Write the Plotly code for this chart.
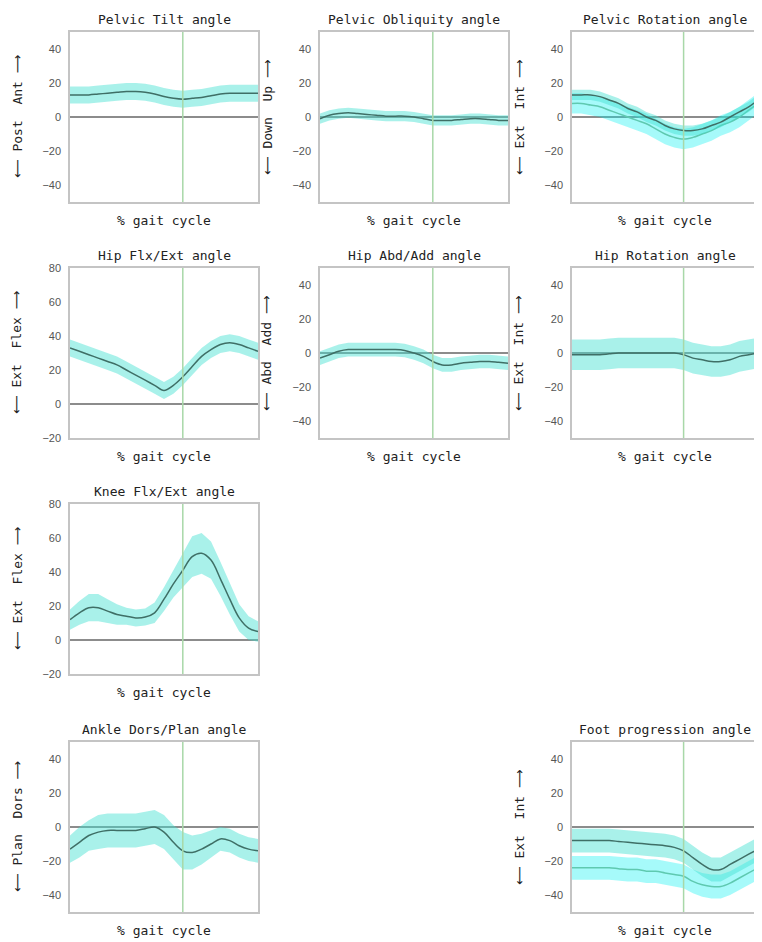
import plotly.graph_objects as go

# the page body has an 8px margin: figure is drawn at (8, 8) in the window
OFF = 8
W, H = 762 - OFF, 942 - OFF
TOE_OFF = 60
x_pct = [0, 5, 10, 15, 20, 25, 30, 35, 40, 45, 50, 55, 60, 65, 70, 75, 80, 85, 90, 95, 100]

titles = ["Pelvic Tilt angle", "Pelvic Obliquity angle", "Pelvic Rotation angle",
          "Hip Flx/Ext angle", "Hip Abd/Add angle", "Hip Rotation angle",
          "Knee Flx/Ext angle", "Ankle Dors/Plan angle", "Foot progression angle"]
ylabel_neg = ["Post", "Down", "Ext", "Ext", "Abd", "Ext", "Ext", "Plan", "Ext"]
ylabel_pos = ["Ant", "Up", "Int", "Flex", "Add", "Int", "Flex", "Dors", "Int"]
yranges = [[-50, 50], [-50, 50], [-50, 50],
           [-20, 80], [-50, 50], [-50, 50],
           [-20, 80], [-50, 50], [-50, 50]]
ticks_pm50 = [-40, -20, 0, 20, 40]
ticks_m20_80 = [-20, 0, 20, 40, 60, 80]

# series A (dark mean line with turquoise band)
mean_a = [
    [13, 13, 13, 13.5, 14, 14.5, 15, 15, 14.5, 13.5, 12, 11, 10.5, 11, 11.5, 12.5, 13.5, 14, 14, 14, 14],
    [-1, 1, 2, 2.5, 2, 1.5, 1, 0.5, 0.5, 0.5, 0, -1, -2, -2, -2, -1.5, -1, -1, -1.5, -2, -2],
    [13, 13, 13, 12, 10, 8, 5, 3, 0, -2, -5, -7, -8, -8, -7, -5, -3, 0, 3, 6, 10],
    [33, 31, 29, 27, 25, 23, 20, 17, 14, 11, 8, 11, 16, 22, 28, 32, 35, 36, 35, 33, 31],
    [-3, -1, 1, 2, 2, 2, 2, 2, 2, 1.5, 0, -2, -5, -7, -7, -6, -5.5, -5, -5, -5.5, -6],
    [-1, -1, -1, -1, -0.5, 0, 0, 0, 0, 0, 0, 0, -1, -3, -4, -5, -5, -4, -2, -1, 0],
    [12, 16, 19, 19, 17, 15, 14, 13, 13.5, 16, 24, 33, 41, 49, 51, 47, 36, 24, 13, 7, 5],
    [-13, -9, -5, -3, -2, -2, -2, -2, -1, 0, -3, -9, -14, -15, -13, -10, -7, -8, -11, -13, -14],
    [-8, -8, -8, -8, -8, -8.5, -9, -9.5, -10, -10.5, -11, -12, -14, -18, -22, -25, -25, -22, -19, -16, -13],
]
sd_a = [
    [5] * 21,
    [3] * 21,
    [3] * 21,
    [5] * 21,
    [4] * 21,
    [9] * 21,
    [6, 7, 8, 8, 7, 6, 5, 5, 5, 6, 7, 8, 10, 12, 12, 11, 10, 9, 8, 7, 6],
    [8, 9, 9, 10, 10, 10, 10, 10, 10, 10, 10, 10, 11, 10, 9, 8, 7, 7, 7, 7, 7],
    [7] * 21,
]
# series B (second group, cyan band) only for some panels
mean_b = {
    2: [8, 8, 7, 6, 4, 2, 0, -2, -4, -7, -10, -12, -13, -12, -10, -8, -5, -3, 0, 4, 8],
    8: [-24, -24, -24, -24, -24, -24.5, -25, -25, -26, -26, -27, -28, -29, -32, -34, -35, -35, -33, -30, -27, -24],
}
sd_b = {2: [6] * 21, 8: [7] * 21}

# layout positions (window pixels)
col_px = [(70, 258), (320, 508), (572, 758)]
row_px = [(32, 202), (268, 438), (504, 674), (742, 912)]
cells = [(0, 0), (0, 1), (0, 2), (1, 0), (1, 1), (1, 2), (2, 0), (3, 0), (3, 2)]

LINE_DARK = "#3f6f66"
BAND_A = "rgba(64,224,208,0.45)"
BAND_B = "rgba(0,240,240,0.35)"
LINE_B = "#5fc9b0"
FONT = "DejaVu Sans Mono, DejaVu Sans"
TICKFONT = "Liberation Sans"
ARROW_L = '<span style="font-family:DejaVu Sans">⟵</span>'
ARROW_R = '<span style="font-family:DejaVu Sans">⟶</span>'

fig = go.Figure()
annotations = []
shapes = []
layout_axes = {}

for i, (r, c) in enumerate(cells):
    n = i + 1
    xa = "x" if n == 1 else f"x{n}"
    ya = "y" if n == 1 else f"y{n}"
    xk = "xaxis" if n == 1 else f"xaxis{n}"
    yk = "yaxis" if n == 1 else f"yaxis{n}"
    x0, x1 = col_px[c][0] - OFF, col_px[c][1] - OFF
    y0, y1 = row_px[r][0] - OFF, row_px[r][1] - OFF
    dx = [x0 / W, x1 / W]
    dy = [1 - y1 / H, 1 - y0 / H]

    def band(mean, sd, fill, line_color, lw):
        up = [m + s for m, s in zip(mean, sd)]
        lo = [m - s for m, s in zip(mean, sd)]
        fig.add_trace(go.Scatter(x=x_pct + x_pct[::-1], y=up + lo[::-1], fill="toself",
                                 fillcolor=fill, line=dict(width=0), mode="lines",
                                 hoverinfo="skip", showlegend=False, xaxis=xa, yaxis=ya))
        fig.add_trace(go.Scatter(x=x_pct, y=mean, mode="lines", line=dict(color=line_color, width=lw, shape="spline"),
                                 showlegend=False, xaxis=xa, yaxis=ya))

    if i in mean_b:
        band(mean_b[i], sd_b[i], BAND_B, LINE_B, 1.5)
    band(mean_a[i], sd_a[i], BAND_A, LINE_DARK, 1.5)

    layout_axes[xk] = dict(domain=dx, range=[0, 100], showticklabels=False, ticks="",
                           showgrid=False, zeroline=False, showline=True, mirror=True,
                           linecolor="#c4c4c4", linewidth=1.5, anchor=ya, fixedrange=True,
                           automargin=False)
    tv = ticks_m20_80 if yranges[i][0] == -20 else ticks_pm50
    layout_axes[yk] = dict(domain=dy, range=yranges[i], tickvals=tv, ticks="",
                           showgrid=False, zeroline=True, zerolinecolor="#8c8c8c", zerolinewidth=1.5,
                           showline=True, mirror=True, linecolor="#c4c4c4", linewidth=1.5,
                           tickfont=dict(family=TICKFONT, size=11, color="#555555"),
                           anchor=xa, fixedrange=True, ticklabelstandoff=5, automargin=False)
    shapes.append(dict(type="line", xref=xa, yref=f"{ya} domain", x0=TOE_OFF, x1=TOE_OFF, y0=0, y1=1,
                       line=dict(color="#a8d8a8", width=1.5)))
    cx = (x0 + x1) / 2 / W
    annotations.append(dict(text=titles[i], x=cx, y=1 - (y0 - 3) / H, xref="paper", yref="paper",
                            xanchor="center", yanchor="bottom", showarrow=False,
                            font=dict(family=FONT, size=13, color="#222222")))
    annotations.append(dict(text="% gait cycle", x=cx, y=1 - (y1 + 9) / H, xref="paper", yref="paper",
                            xanchor="center", yanchor="top", showarrow=False,
                            font=dict(family=FONT, size=13, color="#222222")))
    ylab = f"{ARROW_L} {ylabel_neg[i]}  {ylabel_pos[i]} {ARROW_R}"
    annotations.append(dict(text=ylab, x=(x0 - 53) / W, y=(dy[0] + dy[1]) / 2, xref="paper", yref="paper",
                            xanchor="center", yanchor="middle", textangle=-90, showarrow=False,
                            font=dict(family=FONT, size=13, color="#222222")))

fig.update_layout(width=W, height=H, margin=dict(l=0, r=0, t=0, b=0),
                  paper_bgcolor="white", plot_bgcolor="white",
                  annotations=annotations, shapes=shapes, **layout_axes)
fig.write_html("out.html")
